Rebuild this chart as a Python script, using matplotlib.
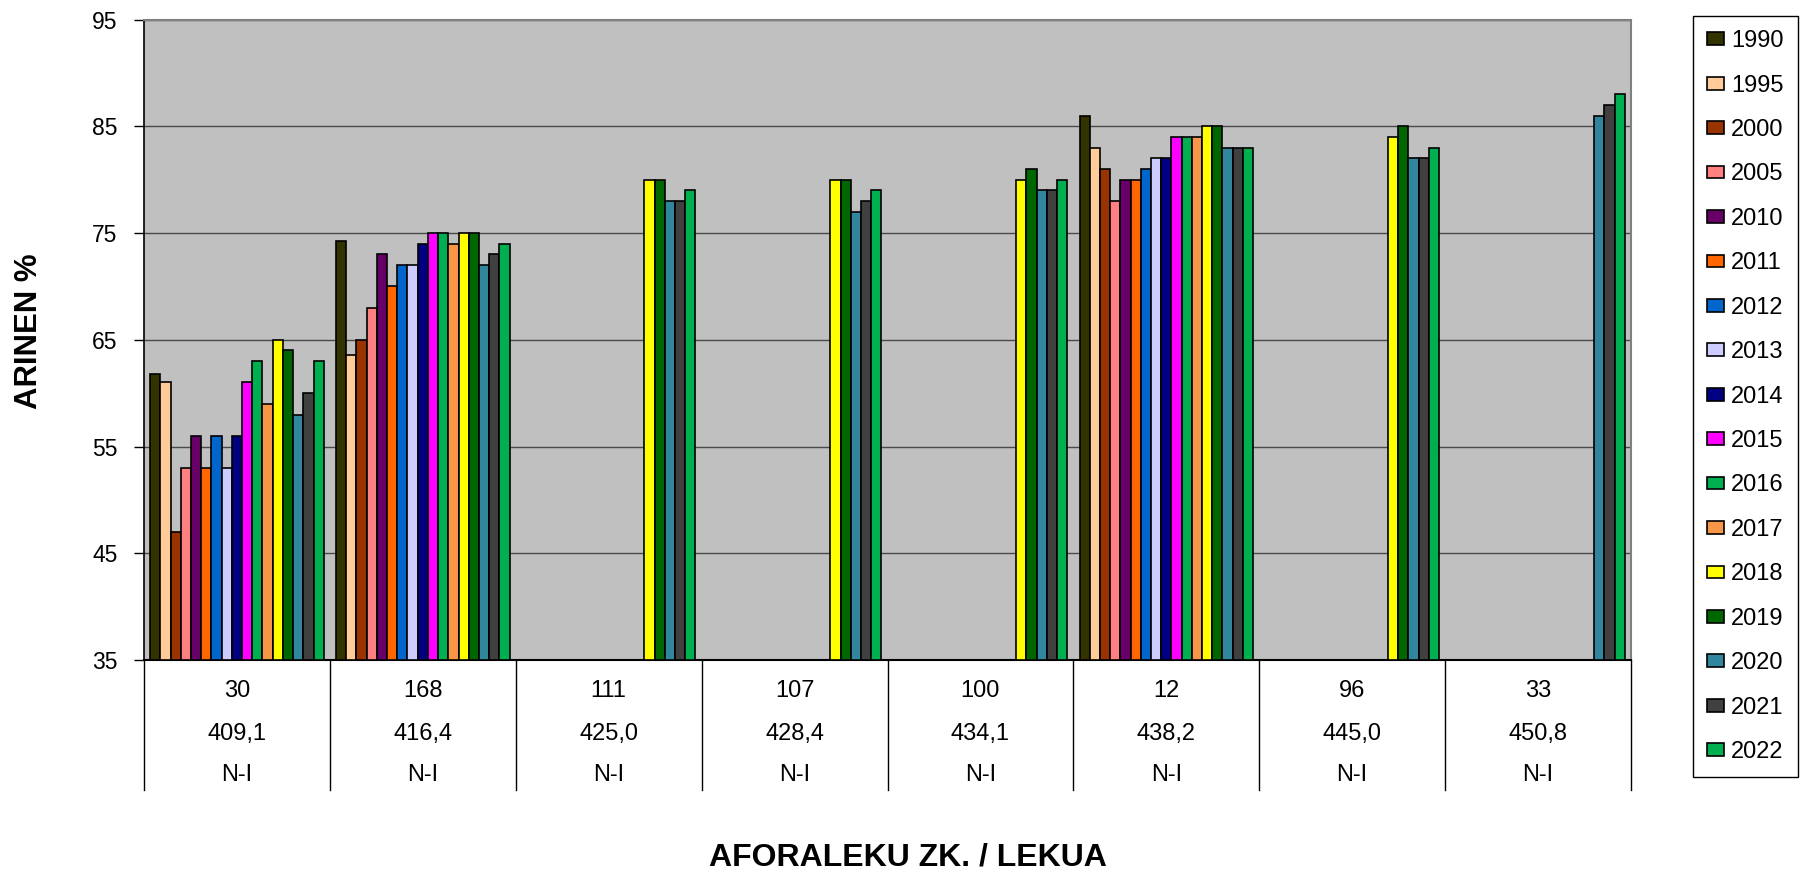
import numpy as np
import matplotlib.pyplot as plt
from matplotlib.patches import Patch
import matplotlib.transforms as mtransforms

# urteak eta koloreak
years = ['1990', '1995', '2000', '2005', '2010', '2011', '2012', '2013', '2014',
         '2015', '2016', '2017', '2018', '2019', '2020', '2021', '2022']
colors = ['#333300', '#FFCC99', '#993300', '#FF8080', '#660066', '#FF6600', '#0066CC',
          '#CCCCFF', '#000080', '#FF00FF', '#00B050', '#F79646', '#FFFF00', '#006600',
          '#31859C', '#404040', '#00B050']

# aforalekuak: zenbakia, km, errepidea
stations = ['30', '168', '111', '107', '100', '12', '96', '33']
km = ['409,1', '416,4', '425,0', '428,4', '434,1', '438,2', '445,0', '450,8']
road = ['N-I'] * 8

nan = np.nan
st_30 = [61.8, 61, 47, 53, 56, 53, 56, 53, 56, 61, 63, 59, 65, 64, 58, 60, 63]
st_168 = [74.3, 63.6, 65, 68, 73, 70, 72, 72, 74, 75, 75, 74, 75, 75, 72, 73, 74]
st_111 = [nan] * 12 + [80, 80, 78, 78, 79]
st_107 = [nan] * 12 + [80, 80, 77, 78, 79]
st_100 = [nan] * 12 + [80, 81, 79, 79, 80]
st_12 = [86, 83, 81, 78, 80, 80, 81, 82, 82, 84, 84, 84, 85, 85, 83, 83, 83]
st_96 = [nan] * 12 + [84, 85, 82, 82, 83]
st_33 = [nan] * 14 + [86, 87, 88]

table = np.array([st_30, st_168, st_111, st_107, st_100, st_12, st_96, st_33])

plt.rcParams['font.family'] = ['Liberation Sans', 'DejaVu Sans']

fig = plt.figure(figsize=(18.04, 8.76), dpi=100)
ax = fig.add_axes([144 / 1804, 1 - 660 / 876, (1631 - 144) / 1804, (660 - 19.6) / 876])
ax.set_facecolor('#C0C0C0')

n = len(years)
w = 0.934 / n
x = np.arange(len(stations))
for j in range(n):
    ax.bar(x + (j - (n - 1) / 2) * w, table[:, j] - 35, bottom=35, width=w,
           color=colors[j], edgecolor='black', linewidth=1.2, zorder=3)

ax.set_xlim(-0.5, len(stations) - 0.5)
ax.set_ylim(35, 95)
ax.set_yticks(np.arange(35, 96, 10))
ax.yaxis.grid(True, color='#4a4a4a', linewidth=1.0, zorder=1)
ax.tick_params(axis='y', direction='out', length=7, width=1, labelsize=16.5, pad=12)
ax.set_xticks([])
for s in ['top', 'right']:
    ax.spines[s].set_color('#808080')
    ax.spines[s].set_linewidth(1.5)
ax.spines['left'].set_linewidth(1.2)
ax.spines['bottom'].set_linewidth(1.5)

# kategoria-taula ardatzaren azpian
trans = mtransforms.blended_transform_factory(ax.transData, ax.transAxes)
for b in np.arange(-0.5, len(stations), 1.0):
    ax.plot([b, b], [0, -0.203], color='black', linewidth=1.0, transform=trans,
            clip_on=False)
for i in range(len(stations)):
    ax.text(i, -0.0484, stations[i], transform=trans, ha='center', va='center',
            fontsize=17)
    ax.text(i, -0.1155, km[i], transform=trans, ha='center', va='center',
            fontsize=17)
    ax.text(i, -0.1796, road[i], transform=trans, ha='center', va='center',
            fontsize=17)

fig.text(29 / 1804, 1 - 331 / 876, 'ARINEN %', rotation=90, ha='center', va='center',
         fontsize=22.4, fontweight='bold')
fig.text(908 / 1804, 1 - 858 / 876, 'AFORALEKU ZK. / LEKUA', ha='center', va='center',
         fontsize=23, fontweight='bold')

handles = [Patch(facecolor=c, edgecolor='black', linewidth=1.2) for c in colors]
leg = fig.legend(handles, years, loc='upper left',
                 bbox_to_anchor=(1693 / 1804, 1 - 16 / 876), fontsize=17,
                 frameon=True, fancybox=False, edgecolor='black', framealpha=1,
                 handlelength=0.7, handleheight=0.45, handletextpad=0.3,
                 labelspacing=0.95, borderpad=0.6, borderaxespad=0)
leg.get_frame().set_linewidth(1.0)

fig.savefig('out.png', dpi=100, facecolor='white')
